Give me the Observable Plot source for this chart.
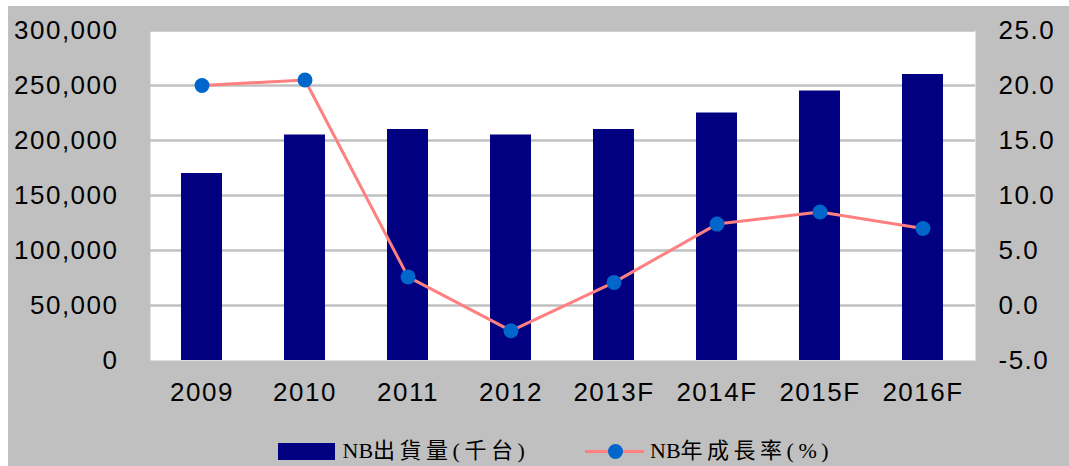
<!DOCTYPE html>
<html>
<head>
<meta charset="utf-8">
<script src="https://cdn.jsdelivr.net/npm/d3@7"></script>
<script src="https://cdn.jsdelivr.net/npm/@observablehq/plot@0.6"></script>
<style>
  html, body { margin: 0; padding: 0; background: #ffffff; }
  #wrap { position: absolute; left: 8px; top: 6px; width: 1061px; height: 460px; background: #c0c0c0; overflow: hidden; }
  #legend { position: absolute; left: 0; top: 436px; width: 1061px; height: 20px; font-family: "Liberation Serif", "Noto Sans CJK TC", serif; font-size: 22px; color: #000; }
  .item { position: absolute; top: 0; height: 18px; display: flex; align-items: center; white-space: nowrap; }
  .sw-bar { width: 57px; height: 17px; background: #000080; margin-right: 8px; flex: none; }
  .sw-line { position: relative; width: 59px; height: 17px; margin-right: 6px; flex: none; }
  .sw-line .ln { position: absolute; left: 0; top: 7px; width: 59px; height: 3px; background: #ff8080; }
  .sw-line .dt { position: absolute; left: 22.5px; top: 1px; width: 15px; height: 15px; border-radius: 50%; background: #0066cc; }
  .lbl { line-height: 18px; }
  .lbl .w { letter-spacing: 4.5px; }
  #chart svg g[aria-label*="tick label"] text { letter-spacing: 1.5px; }
</style>
</head>
<body>
<div id="wrap">
  <div id="chart"></div>
  <div id="legend">
    <div class="item" style="left:269.5px"><div class="sw-bar"></div><span class="lbl" id="l1"></span></div>
    <div class="item" style="left:577px"><div class="sw-line"><div class="ln"></div><div class="dt"></div></div><span class="lbl" id="l2"></span></div>
  </div>
</div>
<script>
const years = ["2009", "2010", "2011", "2012", "2013F", "2014F", "2015F", "2016F"];
const shipments = [170000, 205000, 210000, 205000, 210000, 225000, 245000, 260000];
const growth = [20.0, 20.5, 2.6, -2.3, 2.1, 7.4, 8.5, 7.0];
const leftTicks = [0, 50000, 100000, 150000, 200000, 250000, 300000];
const rightTicks = [-5, 0, 5, 10, 15, 20, 25];
const seriesNames = ["NB出貨量(千台)", "NB年成長率(%)"];

function fillLegend(id, text) {
  const el = document.getElementById(id);
  const m = text.match(/^([A-Za-z]+)(.*)$/);
  const a = document.createElement("span");
  a.textContent = m ? m[1] : "";
  const b = document.createElement("span");
  b.className = "w";
  b.textContent = m ? m[2] : text;
  el.appendChild(a);
  el.appendChild(b);
}
fillLegend("l1", seriesNames[0]);
fillLegend("l2", seriesNames[1]);

// map right-axis values onto the left-axis domain
const rMin = -5, rMax = 25, lMax = 300000;
const toLeft = v => (v - rMin) / (rMax - rMin) * lMax;
const fromLeft = y => y / lMax * (rMax - rMin) + rMin;

const bars = years.map((y, i) => ({year: y, value: shipments[i]}));
const pts = years.map((y, i) => ({year: y, g: growth[i], yl: toLeft(growth[i])}));

const W = 1061, H = 415;
const chart = Plot.plot({
  width: W,
  height: H,
  marginLeft: 142,
  marginRight: 94,
  marginTop: 24,
  marginBottom: H - 354,
  style: {background: "transparent", fontFamily: "'Liberation Sans', Arial, sans-serif", fontSize: "26px", color: "#000", overflow: "visible"},
  x: {type: "band", domain: years, paddingInner: 0.6, paddingOuter: 0.3, label: null},
  y: {domain: [0, lMax], label: null},
  marks: [
    Plot.frame({fill: "#ffffff", stroke: null}),
    Plot.ruleY(leftTicks.filter(t => t > 0), {stroke: "#c0c0c0", strokeWidth: 2.5}),
    Plot.barY(bars, {x: "year", y: "value", fill: "#000080"}),
    Plot.line(pts, {x: "year", y: "yl", stroke: "#ff8080", strokeWidth: 3}),
    Plot.dot(pts, {x: "year", y: "yl", fill: "#0066cc", r: 7.5, stroke: null}),
    Plot.axisY(leftTicks, {anchor: "left", tickSize: 0, tickPadding: 32, tickFormat: d => d3.format(",")(d), label: null, fontSize: 26}),
    Plot.axisY(rightTicks.map(toLeft), {anchor: "right", tickSize: 0, tickPadding: 23, tickFormat: d => fromLeft(d).toFixed(1), label: null, fontSize: 26}),
    Plot.axisX({tickSize: 0, tickPadding: 22, label: null, fontSize: 26})
  ]
});
document.getElementById("chart").appendChild(chart);
</script>
</body>
</html>
